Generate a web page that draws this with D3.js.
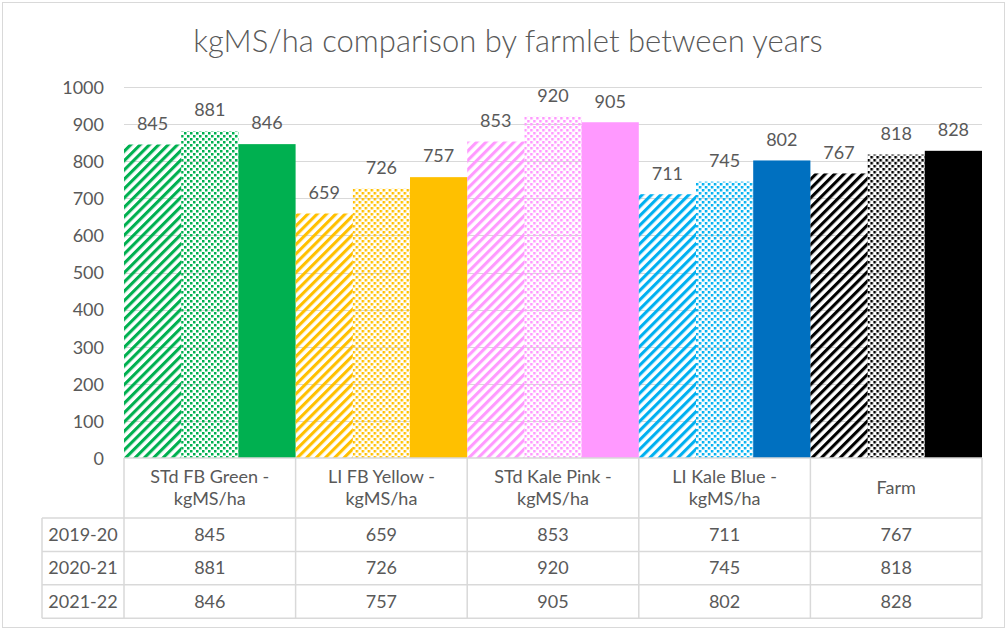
<!DOCTYPE html>
<html>
<head>
<meta charset="utf-8">
<script src="https://cdn.jsdelivr.net/npm/d3@7"></script>
<style>
  html, body { margin: 0; padding: 0; background: #fff; }
  text { font-family: Lato, "Open Sans", sans-serif; fill: #595959; }
</style>
</head>
<body>
<script>
// Farmlets and yearly milk solids per hectare
const categories = ["STd FB Green - kgMS/ha", "LI FB Yellow - kgMS/ha", "STd Kale Pink - kgMS/ha", "LI Kale Blue - kgMS/ha", "Farm"];
const categoryLines = [["STd FB Green -", "kgMS/ha"], ["LI FB Yellow -", "kgMS/ha"], ["STd Kale Pink -", "kgMS/ha"], ["LI Kale Blue -", "kgMS/ha"], ["Farm"]];
const seasons = ["2019-20", "2020-21", "2021-22"];
const values2019 = [845, 659, 853, 711, 767];
const values2020 = [881, 726, 920, 745, 818];
const values2021 = [846, 757, 905, 802, 828];
const yTicks = [0, 100, 200, 300, 400, 500, 600, 700, 800, 900, 1000];

// Colours per farmlet: [light tone for patterned bars, solid tone]
const groupColors = [
  ["#00B050", "#00B050"],
  ["#FFC000", "#FFC000"],
  ["#FF99FF", "#FF99FF"],
  ["#00B0F0", "#0070C0"],
  ["#000000", "#000000"]
];

const seriesValues = [values2019, values2020, values2021];

const W = 1008, H = 630;
const FS = 18;
const svg = d3.select("body").append("svg").attr("width", W).attr("height", H);

svg.append("rect").attr("x", 0).attr("y", 0).attr("width", W).attr("height", H).attr("fill", "#fff");
svg.append("rect").attr("x", 2.5).attr("y", 2.5).attr("width", 1002).attr("height", 625)
  .attr("fill", "none").attr("stroke", "#d9d9d9");

// Fill patterns: wide diagonal stripes and large dots
const defs = svg.append("defs");
groupColors.forEach((c, i) => {
  const s = defs.append("pattern").attr("id", "stripe" + i)
    .attr("patternUnits", "userSpaceOnUse").attr("width", 6.6).attr("height", 6.6)
    .attr("patternTransform", "rotate(45)");
  s.append("rect").attr("x", 0).attr("y", 0).attr("width", 3.1).attr("height", 6.6).attr("fill", c[0]);

  const d = defs.append("pattern").attr("id", "dots" + i)
    .attr("patternUnits", "userSpaceOnUse").attr("width", 6).attr("height", 6);
  d.append("rect").attr("x", 0).attr("y", 0).attr("width", 2.5).attr("height", 2.5).attr("fill", c[0]);
  d.append("rect").attr("x", 3).attr("y", 3).attr("width", 2.5).attr("height", 2.5).attr("fill", c[0]);
});

const fillFor = (gi, si) => si === 0 ? `url(#stripe${gi})` : si === 1 ? `url(#dots${gi})` : groupColors[gi][1];

// Title
svg.append("text").attr("x", 508).attr("y", 52).attr("text-anchor", "middle")
  .style("font-size", "31px").style("font-weight", 300).text("kgMS/ha comparison by farmlet between years");

const plotLeft = 124, plotRight = 982, plotTop = 87, plotBottom = 458;
const y = d3.scaleLinear().domain([0, 1000]).range([plotBottom, plotTop]);
const x = d3.scaleBand().domain(categories).range([plotLeft, plotRight]).padding(0);
const xs = d3.scaleBand().domain(seasons).range([0, x.bandwidth()]).padding(0);

// Gridlines
svg.append("g").selectAll("line").data(yTicks.filter(t => t > 0)).join("line")
  .attr("x1", plotLeft).attr("x2", plotRight)
  .attr("y1", d => Math.round(y(d)) + 0.5).attr("y2", d => Math.round(y(d)) + 0.5)
  .attr("stroke", "#d9d9d9").attr("stroke-width", 1);

// Y axis labels
const yAxis = svg.append("g").attr("transform", `translate(${plotLeft - 20},0)`)
  .call(d3.axisLeft(y).tickValues(yTicks).tickFormat(d3.format("d")).tickSize(0).tickPadding(0));
yAxis.select(".domain").remove();
yAxis.selectAll("text").style("font-size", FS + "px").attr("fill", "#595959")
  .style("font-family", "Lato, 'Open Sans', sans-serif").attr("dy", "0.35em");

// Bars
const groups = svg.append("g").selectAll("g").data(categories).join("g")
  .attr("transform", d => `translate(${x(d)},0)`);

groups.each(function(cat, gi) {
  const g = d3.select(this);
  seasons.forEach((s, si) => {
    const v = seriesValues[si][gi];
    g.append("rect")
      .attr("x", xs(s)).attr("width", xs.bandwidth())
      .attr("y", y(v)).attr("height", y(0) - y(v))
      .attr("fill", fillFor(gi, si));
    g.append("text")
      .attr("x", xs(s) + xs.bandwidth() / 2).attr("y", y(v) - 21)
      .attr("text-anchor", "middle").attr("dy", "0.35em")
      .style("font-size", FS + "px").text(v);
  });
});

// Data table under the axis
const headerTop = 458, headerBottom = 518, rowH = 33.4, tableLeft = 42;
const tableBottom = headerBottom + rowH * seasons.length;
const tbl = svg.append("g").attr("stroke", "#d9d9d9").attr("stroke-width", 1.5);

// horizontal lines
tbl.append("line").attr("x1", plotLeft).attr("x2", plotRight).attr("y1", headerTop).attr("y2", headerTop);
d3.range(seasons.length + 1).forEach(i => {
  const yy = headerBottom + i * rowH;
  tbl.append("line").attr("x1", tableLeft).attr("x2", plotRight).attr("y1", yy).attr("y2", yy);
});
// vertical lines
tbl.append("line").attr("x1", tableLeft).attr("x2", tableLeft).attr("y1", headerBottom).attr("y2", tableBottom);
categories.forEach(c => {
  tbl.append("line").attr("x1", x(c)).attr("x2", x(c)).attr("y1", headerTop).attr("y2", tableBottom);
});
tbl.append("line").attr("x1", plotRight).attr("x2", plotRight).attr("y1", headerTop).attr("y2", tableBottom);

// category header text
categories.forEach((c, gi) => {
  const lines = categoryLines[gi];
  const cx = x(c) + x.bandwidth() / 2;
  const mid = (headerTop + headerBottom) / 2;
  lines.forEach((ln, li) => {
    svg.append("text").attr("x", cx)
      .attr("y", mid + (li - (lines.length - 1) / 2) * 22)
      .attr("dy", "0.35em").attr("text-anchor", "middle")
      .style("font-size", FS + "px").text(ln);
  });
});

// season rows
seasons.forEach((s, si) => {
  const cy = headerBottom + (si + 0.5) * rowH;
  svg.append("text").attr("x", (tableLeft + plotLeft) / 2).attr("y", cy).attr("dy", "0.35em")
    .attr("text-anchor", "middle").style("font-size", FS + "px").text(s);
  categories.forEach((c, gi) => {
    svg.append("text").attr("x", x(c) + x.bandwidth() / 2).attr("y", cy).attr("dy", "0.35em")
      .attr("text-anchor", "middle").style("font-size", FS + "px").text(seriesValues[si][gi]);
  });
});
</script>
</body>
</html>
